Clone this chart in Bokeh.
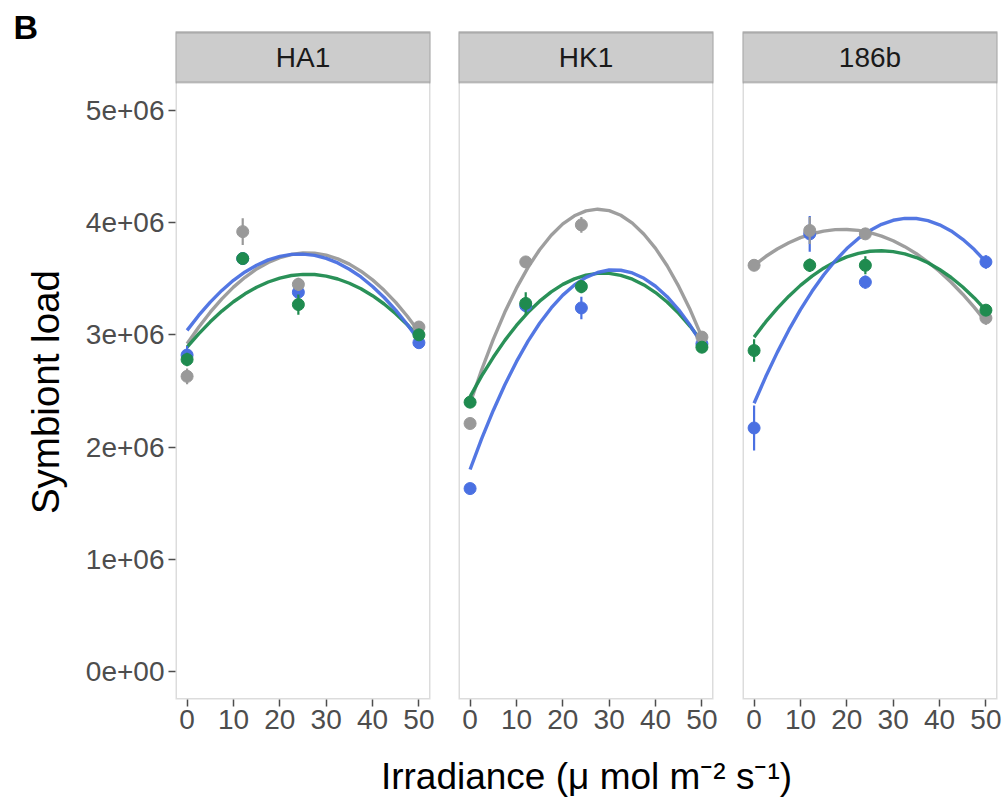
from bokeh.plotting import figure
from bokeh.layouts import row, column
from bokeh.models import BoxAnnotation, Label, FixedTicker, Range1d
from bokeh.embed import file_html
from bokeh.resources import INLINE

# ---------------- data (symbiont load in units of 1e6) ----------------
panels = ["HA1", "HK1", "186b"]
irradiance = [0, 12, 24, 50]
x_ticks = [0, 10, 20, 30, 40, 50]
y_ticks = [0, 1, 2, 3, 4, 5]
y_tick_labels = ["0e+00", "1e+06", "2e+06", "3e+06", "4e+06", "5e+06"]
x_title = "Irradiance (\u03bc mol m\u207b\u00b2 s\u207b\u00b9)"
y_title = "Symbiont load"
panel_tag = "B"

# means
ha1_gray = [2.63, 3.92, 3.45, 3.07]
ha1_green = [2.78, 3.68, 3.27, 3.00]
ha1_blue = [2.82, 3.68, 3.38, 2.93]
hk1_gray = [2.21, 3.65, 3.98, 2.98]
hk1_green = [2.40, 3.28, 3.43, 2.89]
hk1_blue = [1.63, 3.26, 3.24, 2.92]
b186_gray = [3.62, 3.93, 3.90, 3.15]
b186_green = [2.86, 3.62, 3.62, 3.22]
b186_blue = [2.17, 3.90, 3.47, 3.65]

# standard errors
ha1_gray_se = [0.07, 0.12, 0.06, 0.04]
ha1_green_se = [0.06, 0.05, 0.09, 0.04]
ha1_blue_se = [0.08, 0.05, 0.10, 0.04]
hk1_gray_se = [0.05, 0.05, 0.07, 0.04]
hk1_green_se = [0.05, 0.10, 0.06, 0.04]
hk1_blue_se = [0.04, 0.06, 0.10, 0.04]
b186_gray_se = [0.04, 0.12, 0.05, 0.06]
b186_green_se = [0.10, 0.06, 0.08, 0.05]
b186_blue_se = [0.20, 0.16, 0.06, 0.06]

# fitted curves
fit_x = [0, 2.5, 5, 7.5, 10, 12.5, 15, 17.5, 20, 22.5, 25,
         27.5, 30, 32.5, 35, 37.5, 40, 42.5, 45, 47.5, 50]
ha1_gray_fit = [2.920, 3.068, 3.202, 3.321, 3.425, 3.513, 3.587, 3.645, 3.688, 3.716, 3.729,
                3.727, 3.710, 3.677, 3.630, 3.567, 3.490, 3.397, 3.289, 3.166, 3.028]
ha1_green_fit = [2.890, 3.009, 3.116, 3.212, 3.295, 3.366, 3.424, 3.471, 3.506, 3.529, 3.539,
                 3.538, 3.524, 3.498, 3.460, 3.411, 3.349, 3.275, 3.188, 3.090, 2.980]
ha1_blue_fit = [3.040, 3.173, 3.292, 3.396, 3.486, 3.561, 3.621, 3.668, 3.699, 3.717, 3.719,
                3.708, 3.681, 3.641, 3.585, 3.516, 3.431, 3.333, 3.220, 3.092, 2.950]
hk1_gray_fit = [2.390, 2.689, 2.960, 3.203, 3.416, 3.602, 3.759, 3.888, 3.989, 4.061, 4.105,
                4.120, 4.107, 4.066, 3.996, 3.897, 3.771, 3.616, 3.432, 3.221, 2.980]
hk1_green_fit = [2.450, 2.634, 2.800, 2.951, 3.084, 3.201, 3.300, 3.383, 3.450, 3.499, 3.532,
                 3.548, 3.548, 3.530, 3.496, 3.445, 3.377, 3.293, 3.192, 3.074, 2.939]
hk1_blue_fit = [1.800, 2.075, 2.326, 2.555, 2.761, 2.944, 3.103, 3.240, 3.354, 3.444, 3.512,
                3.556, 3.578, 3.576, 3.552, 3.504, 3.433, 3.340, 3.223, 3.083, 2.920]
b186_gray_fit = [3.620, 3.698, 3.765, 3.821, 3.867, 3.901, 3.925, 3.938, 3.939, 3.931, 3.911,
                 3.880, 3.839, 3.786, 3.723, 3.649, 3.565, 3.469, 3.362, 3.245, 3.117]
b186_green_fit = [2.980, 3.115, 3.236, 3.345, 3.441, 3.524, 3.594, 3.651, 3.695, 3.726, 3.745,
                  3.750, 3.742, 3.722, 3.689, 3.643, 3.583, 3.511, 3.426, 3.329, 3.218]
b186_blue_fit = [2.390, 2.626, 2.844, 3.044, 3.225, 3.388, 3.533, 3.660, 3.769, 3.859, 3.931,
                 3.985, 4.021, 4.038, 4.037, 4.018, 3.981, 3.926, 3.852, 3.760, 3.650]

GRAY = "#999999"
GREEN = "#1f8b4f"
BLUE = "#4a70e2"

panel_data = {
    "HA1": dict(gray=(ha1_gray, ha1_gray_se, ha1_gray_fit),
                green=(ha1_green, ha1_green_se, ha1_green_fit),
                blue=(ha1_blue, ha1_blue_se, ha1_blue_fit)),
    "HK1": dict(gray=(hk1_gray, hk1_gray_se, hk1_gray_fit),
                green=(hk1_green, hk1_green_se, hk1_green_fit),
                blue=(hk1_blue, hk1_blue_se, hk1_blue_fit)),
    "186b": dict(gray=(b186_gray, b186_gray_se, b186_gray_fit),
                 green=(b186_green, b186_green_se, b186_green_fit),
                 blue=(b186_blue, b186_blue_se, b186_blue_fit)),
}
colors = {"gray": GRAY, "green": GREEN, "blue": BLUE}

FONT = "Liberation Sans"
Y0, Y1 = -0.25, 5.25          # panel data range
STRIP_TOP = 5.695             # top of the facet strip
PAGE_TOP = 5.98               # top of canvas (blank space above strips)
X0, X1 = -2.5, 52.5

FRAME_W, FRAME_H = 255, 699
BOTTOM = 50
TITLE_H = 50

y_range = Range1d(Y0, PAGE_TOP)


def style_blank(f):
    f.outline_line_color = None
    f.xgrid.grid_line_color = None
    f.ygrid.grid_line_color = None
    f.background_fill_color = "white"
    f.border_fill_color = "white"


# left column: panel tag and y-axis title (shares the panels' y scale)
side = figure(frame_width=70, frame_height=FRAME_H, x_range=Range1d(0, 70), y_range=y_range,
              x_axis_location=None, y_axis_location=None,
              output_backend="svg", toolbar_location=None,
              min_border_left=0, min_border_right=0, min_border_top=0,
              min_border_bottom=BOTTOM)
style_blank(side)
side.add_layout(Label(x=13, y=5.74, text=panel_tag, text_align="left",
                      text_baseline="middle", text_font=FONT,
                      text_font_size="34px", text_font_style="bold",
                      text_color="#000000"))
side.add_layout(Label(x=45, y=2.49, text=y_title, angle=1.5707963,
                      text_align="center", text_baseline="middle", text_font=FONT,
                      text_font_size="38.5px", text_color="#000000"))

borders = [(105, 14), (14, 14), (15, 5)]
figs = [side]
for i, name in enumerate(panels):
    bl, br = borders[i]
    p = figure(
        frame_width=FRAME_W, frame_height=FRAME_H,
        x_range=Range1d(X0, X1), y_range=y_range,
        output_backend="svg", toolbar_location=None,
        y_axis_location="left" if i == 0 else None,
        min_border_top=0, min_border_right=br,
        min_border_left=bl, min_border_bottom=BOTTOM,
    )
    style_blank(p)

    p.xaxis.ticker = FixedTicker(ticks=x_ticks)
    p.xaxis.minor_tick_line_color = None
    p.xaxis.axis_line_color = None
    p.xaxis.major_tick_line_color = "#4d4d4d"
    p.xaxis.major_tick_line_width = 1.5
    p.xaxis.major_tick_in = 0
    p.xaxis.major_tick_out = 7
    p.xaxis.major_label_standoff = 3
    p.xaxis.major_label_text_font = FONT
    p.xaxis.major_label_text_font_size = "28px"
    p.xaxis.major_label_text_color = "#4d4d4d"

    if i == 0:
        p.yaxis.ticker = FixedTicker(ticks=y_ticks)
        p.yaxis.major_label_overrides = {t: s for t, s in zip(y_ticks, y_tick_labels)}
        p.yaxis.minor_tick_line_color = None
        p.yaxis.axis_line_color = None
        p.yaxis.major_tick_line_color = "#4d4d4d"
        p.yaxis.major_tick_line_width = 1.5
        p.yaxis.major_tick_in = 0
        p.yaxis.major_tick_out = 7
        p.yaxis.major_label_standoff = 4
        p.yaxis.major_label_text_font = FONT
        p.yaxis.major_label_text_font_size = "28px"
        p.yaxis.major_label_text_color = "#4d4d4d"

    # panel border (strip + data area)
    p.add_layout(BoxAnnotation(top=STRIP_TOP, bottom=Y0, fill_alpha=0,
                               line_color="#8c8c8c", line_width=3))
    # strip header
    p.add_layout(BoxAnnotation(bottom=Y1, top=STRIP_TOP, fill_color="#cccccc",
                               fill_alpha=1.0, line_color="#4d4d4d", line_width=2))
    p.add_layout(Label(x=(X0 + X1) / 2, y=(Y1 + STRIP_TOP) / 2, text=name,
                       text_align="center", text_baseline="middle",
                       text_font=FONT, text_font_size="28px",
                       text_color="#1a1a1a"))

    d = panel_data[name]
    for key in ["gray", "green", "blue"]:
        _, _, fit = d[key]
        p.line(fit_x, fit, line_color=colors[key], line_width=3.4, line_alpha=0.95)
    for key in ["blue", "gray", "green"]:
        m, se, _ = d[key]
        lo = [a - b for a, b in zip(m, se)]
        hi = [a + b for a, b in zip(m, se)]
        p.segment(x0=irradiance, y0=lo, x1=irradiance, y1=hi,
                  line_color=colors[key], line_width=2.2)
        p.scatter(irradiance, m, size=12, fill_color=colors[key],
                  line_color=colors[key])
    figs.append(p)

# bottom strip: x-axis title
bottom = figure(frame_width=1002, frame_height=TITLE_H, x_range=Range1d(0, 1002),
                y_range=Range1d(0, TITLE_H), x_axis_location=None, y_axis_location=None,
                output_backend="svg", toolbar_location=None,
                min_border_left=0, min_border_right=0, min_border_top=0,
                min_border_bottom=0)
style_blank(bottom)
bottom.add_layout(Label(x=586, y=23, text=x_title, text_align="center",
                        text_baseline="middle", text_font=FONT,
                        text_font_size="37px", text_color="#000000"))

layout = column(row(*figs, spacing=0), bottom, spacing=0)
open("out.html", "w").write(file_html(layout, INLINE))
